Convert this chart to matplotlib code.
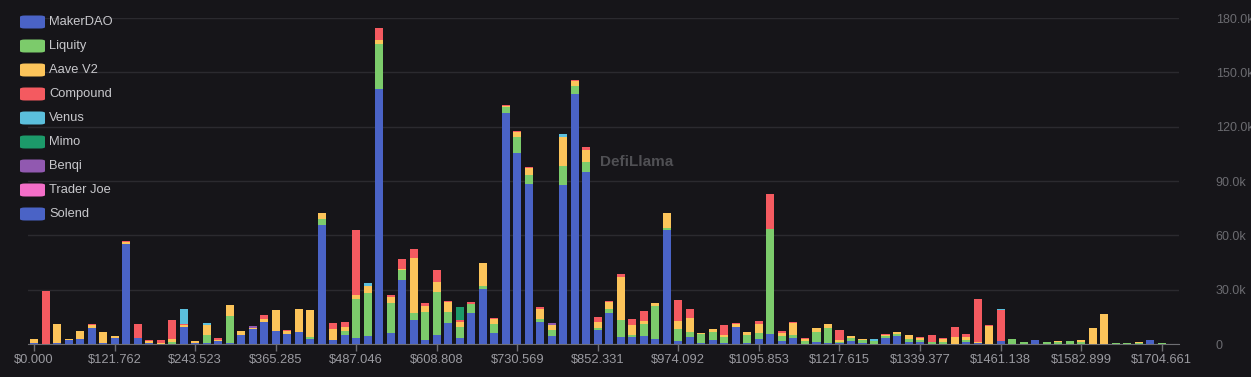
import matplotlib
matplotlib.use("Agg")
import matplotlib.pyplot as plt
from matplotlib.patches import FancyBboxPatch
import numpy as np

plt.rcParams["font.family"] = ["Liberation Sans", "DejaVu Sans"]

# liquidation value (k USD) per price bucket, 100 buckets
protocols = ["MakerDAO", "Liquity", "Aave V2", "Compound", "Venus", "Mimo", "Benqi", "Trader Joe", "Solend"]
colors = ["#4a63c6", "#7ccb6b", "#fcc45a", "#f45a60", "#5bbfdc", "#1c9a6a", "#9159b0", "#f46ec8", "#4a63c6"]

makerdao = [0.3, 0, 0.8, 2.0, 2.5, 8.8, 0.3, 3.1, 55.3, 3.5,
            0.3, 0, 0, 9.5, 0.3, 0.3, 1.5, 0.3, 4.8, 8.2,
            12.2, 7.3, 5.5, 6.4, 2.6, 65.7, 2.2, 4.9, 3.5, 4.4,
            140.9, 6.3, 35.4, 13.3, 2.2, 5.0, 11.4, 3.1, 16.9, 30.2,
            5.9, 127.8, 105.3, 88.4, 12.3, 4.4, 87.8, 138.1, 95.2, 7.7,
            16.9, 3.7, 3.7, 4.4, 2.6, 63.0, 1.8, 4.0, 0.5, 2.2,
            0.7, 9.6, 0.5, 2.8, 5.3, 1.8, 3.1, 0.2, 1.3, 0.4,
            0.5, 1.8, 0.5, 0.2, 3.5, 4.6, 1.1, 1.3, 0.2, 0.2,
            0.2, 1.3, 0.3, 0.2, 1.6, 0.2, 0.1, 2.0, 0.1, 0.1,
            0.1, 0.2, 0.1, 0.1, 0.2, 0.1, 0.2, 2.0, 0.2, 0.1]
liquity = [0, 0, 0, 0, 0, 0, 0, 0, 0, 0,
           0, 0, 1.0, 0, 0, 4.8, 0, 15.1, 0, 0,
           0, 0, 0, 0, 1.3, 3.1, 0, 2.4, 21.2, 23.9,
           24.7, 16.6, 5.5, 3.7, 15.7, 23.6, 6.4, 6.4, 5.0, 1.8,
           5.0, 2.8, 9.0, 4.8, 1.3, 3.3, 10.5, 4.1, 5.5, 0.9,
           2.2, 9.6, 1.3, 6.6, 18.4, 1.3, 6.3, 2.8, 5.2, 4.6,
           3.3, 0, 4.6, 3.1, 58.4, 2.6, 1.8, 1.5, 5.5, 8.2,
           0.8, 1.3, 1.5, 1.2, 0.8, 0.9, 1.5, 1.0, 0.9, 1.0,
           0, 1.0, 0, 0, 0, 2.5, 1.0, 0, 0.9, 1.0,
           1.3, 0.8, 0, 0, 0.5, 0.3, 0.4, 0, 0.2, 0.1]
aave_v2 = [2.3, 0, 10.5, 0.8, 4.8, 1.6, 6.3, 1.3, 1.2, 0,
           1.6, 0.8, 2.0, 0.8, 1.2, 5.6, 0.6, 6.0, 2.3, 0.8,
           1.8, 11.3, 1.8, 12.8, 14.8, 3.3, 5.9, 2.2, 2.2, 3.7,
           2.4, 2.8, 0.7, 30.4, 3.1, 5.9, 5.2, 2.8, 0, 12.5,
           2.9, 0.6, 2.9, 3.9, 5.5, 2.8, 15.8, 3.1, 6.4, 3.7,
           4.2, 23.9, 5.5, 1.8, 1.8, 7.9, 4.8, 7.4, 0.6, 1.5,
           0.9, 1.2, 1.3, 5.2, 0, 1.5, 6.8, 1.2, 1.8, 2.4,
           0.8, 1.3, 0.5, 0, 0.6, 0.9, 2.2, 1.0, 0, 1.7,
           3.7, 1.8, 1.0, 10.0, 0, 0, 0, 0, 0, 0.5,
           0, 1.0, 9.0, 16.2, 0, 0, 0.5, 0, 0, 0]
compound = [0.3, 29.5, 0, 0, 0, 0.5, 0, 0.3, 0.4, 7.5,
            0.3, 1.2, 10.2, 0.8, 0.3, 0, 1.0, 0, 0, 0,
            1.8, 0.4, 0.7, 0.4, 0.3, 0.5, 3.3, 2.7, 36.1, 0,
            6.4, 1.5, 5.2, 5.0, 1.5, 6.1, 0.9, 0.9, 1.3, 0.4,
            0.7, 0.7, 0.6, 0.4, 1.3, 0, 0, 0.3, 1.7, 2.4,
            0.6, 1.5, 3.1, 5.3, 0, 0.4, 11.2, 5.2, 0, 0,
            5.5, 0.6, 0, 1.8, 19.0, 1.3, 0.3, 0.3, 0.3, 0.3,
            5.9, 0.3, 0, 0, 0.6, 0.3, 0, 0.4, 4.0, 0.6,
            5.5, 1.2, 23.5, 0.2, 17.0, 0, 0, 0, 0, 0,
            0, 0, 0, 0, 0, 0, 0, 0, 0, 0]
venus = [0] * 100
venus[13], venus[15], venus[29], venus[46], venus[73], venus[84] = 8.5, 0.9, 1.5, 1.7, 1.2, 0.9
mimo = [0] * 100
mimo[37] = 7.0
benqi = [0] * 100
benqi[19], benqi[45] = 1.2, 1.3
trader_joe = [0] * 100
solend = [0] * 100

tick_labels = ["$0.000", "$121.762", "$243.523", "$365.285", "$487.046", "$608.808",
               "$730.569", "$852.331", "$974.092", "$1095.853", "$1217.615",
               "$1339.377", "$1461.138", "$1582.899", "$1704.661"]
y_ticks = [0, 30, 60, 90, 120, 150, 180]

series = [makerdao, liquity, aave_v2, compound, venus, mimo, benqi, trader_joe, solend]

bg = "#161519"
fig = plt.figure(figsize=(12.51, 3.77), dpi=100, facecolor=bg)
ax = fig.add_axes([0.0226, 0.0875, 0.9198, 0.8647], facecolor=bg)

x = np.arange(len(makerdao))
bottom = np.zeros(len(x))
for vals, c in zip(series, colors):
    vals = np.array(vals, dtype=float)
    ax.bar(x, vals, 0.7, bottom=bottom, color=c, edgecolor="none", zorder=3)
    bottom += vals

ax.set_xlim(-0.5, len(x) - 0.5)
ax.set_ylim(0, 180)
ax.set_xticks(x[::7][:len(tick_labels)])
ax.set_xticklabels(tick_labels)
ax.yaxis.tick_right()
ax.set_yticks(y_ticks)
ax.set_yticklabels(["0"] + [f"{v:.1f}k" for v in y_ticks[1:]])
ax.tick_params(axis="x", colors="#6e6e73", labelcolor="#9a9aa0", labelsize=9.3, length=5, width=1, pad=2)
ax.tick_params(axis="y", length=0, labelcolor="#6b6b70", labelsize=9, pad=26.5)
for lbl in ax.get_yticklabels():
    lbl.set_horizontalalignment("left")
ax.grid(axis="y", color="#2b2a2f", linewidth=1, zorder=0)
for s in ["top", "right", "left"]:
    ax.spines[s].set_visible(False)
ax.spines["bottom"].set_color("#6e6e73")

# watermark
fig.text(0.4795, 0.57, "DefiLlama", color="#505054", fontsize=11, fontweight="bold",
         ha="left", va="center")

# legend drawn manually with rounded swatches
for k, (name, c) in enumerate(zip(protocols, colors)):
    yc = 377 - (22 + 24 * k)
    fig.patches.append(FancyBboxPatch((20 / 1251, (yc - 6.5) / 377), 25 / 1251, 13 / 377,
                                      boxstyle="round,pad=0,rounding_size=0.004",
                                      transform=fig.transFigure, facecolor=c, edgecolor="none"))
    fig.text(49 / 1251, yc / 377, name, color="#c8c8cc", fontsize=9.3, ha="left", va="center")

fig.savefig("out.png", dpi=100, facecolor=bg)
